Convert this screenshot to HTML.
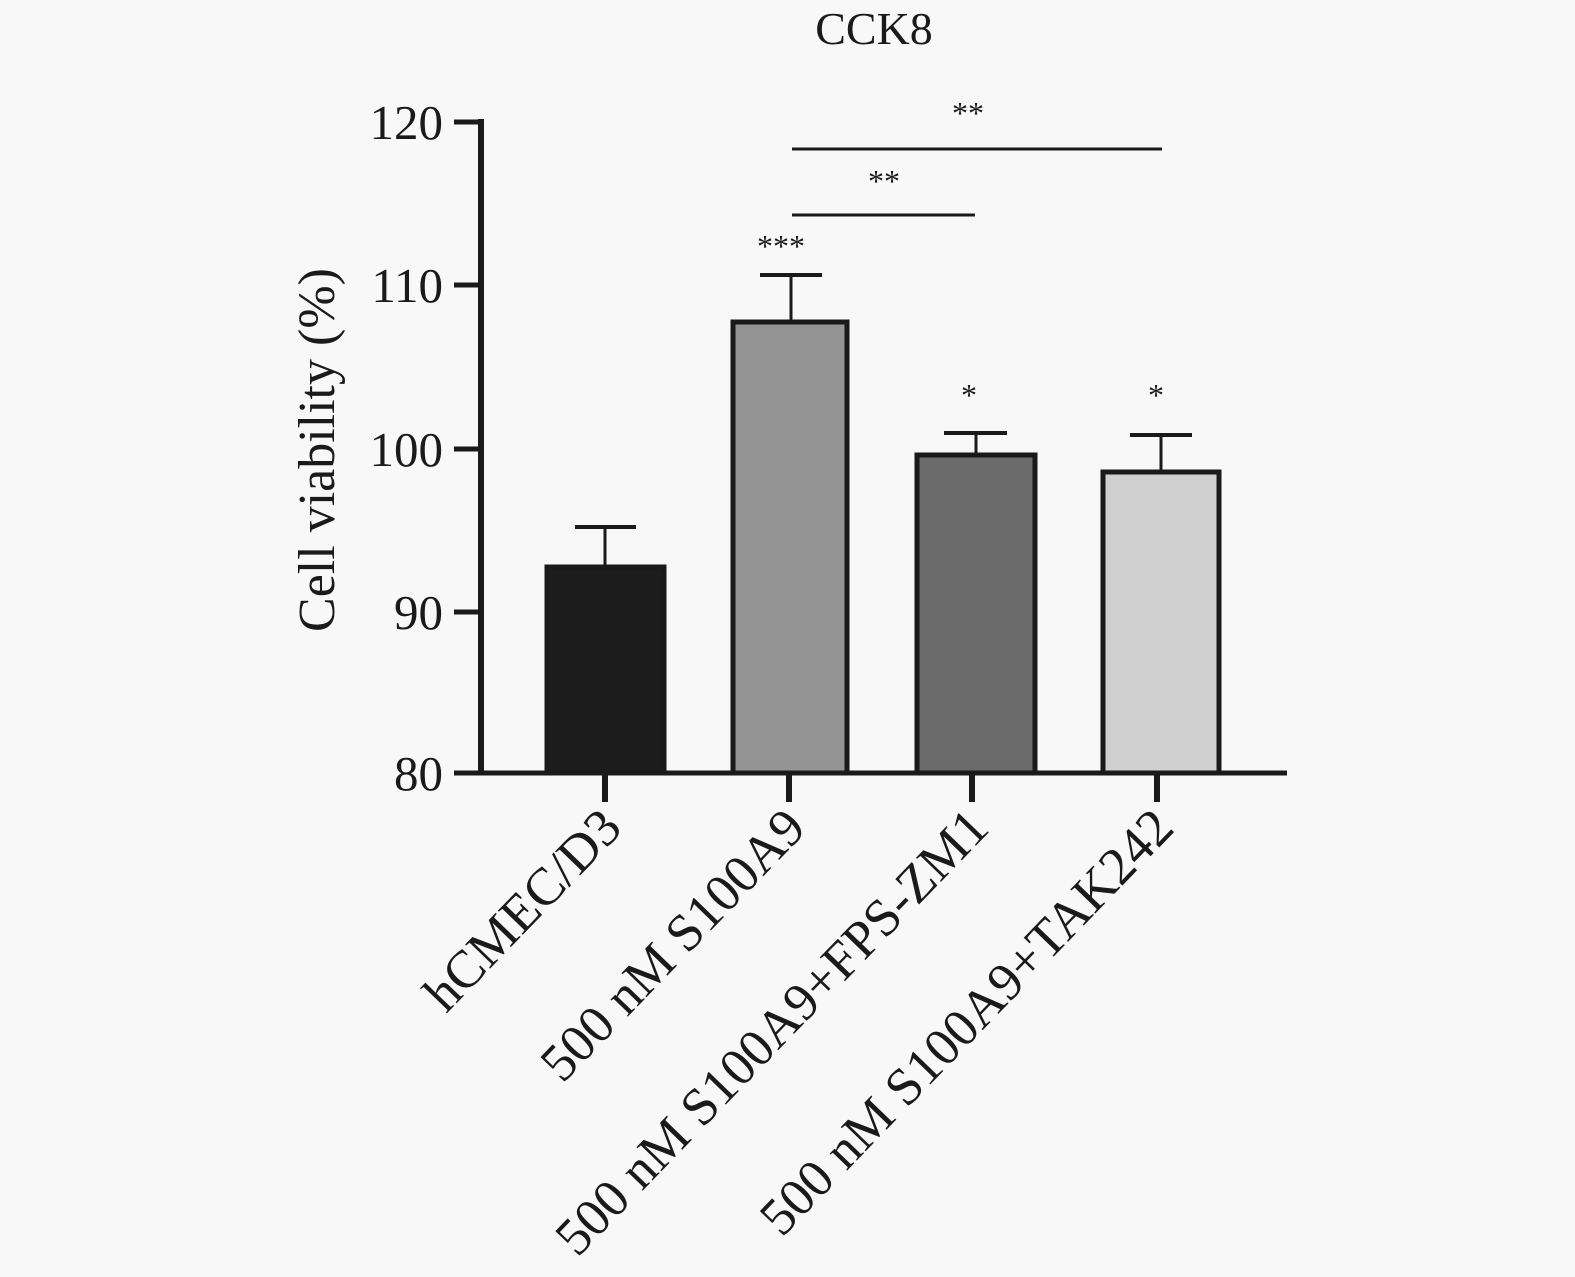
<!DOCTYPE html>
<html><head><meta charset="utf-8"><style>
html,body{margin:0;padding:0;background:#f8f8f8;}
svg{display:block;}
text{font-family:"Liberation Serif",serif;fill:#1a1a1a;}
</style></head><body>
<svg width="1575" height="1277" viewBox="0 0 1575 1277" xmlns="http://www.w3.org/2000/svg">
<rect width="1575" height="1277" fill="#f8f8f8"/>
<text x="874" y="44" font-size="46" text-anchor="middle">CCK8</text>
<line x1="481" y1="119" x2="481" y2="775" stroke="#1a1a1a" stroke-width="6"/>
<g stroke="#1a1a1a" stroke-width="5">
<line x1="454" y1="122" x2="481" y2="122"/>
<line x1="454" y1="285" x2="481" y2="285"/>
<line x1="454" y1="449" x2="481" y2="449"/>
<line x1="454" y1="612" x2="481" y2="612"/>
<line x1="454" y1="773" x2="1287" y2="773"/>
</g>
<g font-size="49" text-anchor="end">
<text x="443" y="139">120</text>
<text x="443" y="302">110</text>
<text x="443" y="466">100</text>
<text x="443" y="629">90</text>
<text x="443" y="790">80</text>
</g>
<text transform="translate(334,450) rotate(-90)" font-size="52" text-anchor="middle">Cell viability (%)</text>
<g stroke="#1a1a1a" stroke-width="5">
<rect x="547" y="567" width="117" height="206" fill="#1c1c1c"/>
<rect x="733" y="322" width="114" height="451" fill="#949494"/>
<rect x="917" y="455" width="118" height="318" fill="#6b6b6b"/>
<rect x="1103" y="472" width="116" height="301" fill="#d0d0d0"/>
</g>
<g stroke="#1a1a1a" stroke-width="3">
<line x1="605" y1="527" x2="605" y2="566"/><line x1="575" y1="527" x2="636" y2="527" stroke-width="4"/>
<line x1="791" y1="275" x2="791" y2="320"/><line x1="760" y1="275" x2="822" y2="275" stroke-width="4"/>
<line x1="976" y1="433" x2="976" y2="454"/><line x1="944" y1="433" x2="1007" y2="433" stroke-width="4"/>
<line x1="1161" y1="435" x2="1161" y2="471"/><line x1="1130" y1="435" x2="1192" y2="435" stroke-width="4"/>
</g>
<g stroke="#1a1a1a" stroke-width="6">
<line x1="605" y1="773" x2="605" y2="802"/>
<line x1="789" y1="773" x2="789" y2="802"/>
<line x1="972" y1="773" x2="972" y2="802"/>
<line x1="1157" y1="773" x2="1157" y2="802"/>
</g>
<g stroke="#1a1a1a" stroke-width="3">
<line x1="792" y1="149" x2="1162" y2="149"/>
<line x1="792" y1="215" x2="975" y2="215"/>
</g>
<g font-size="32" text-anchor="middle">
<text x="968" y="124">**</text>
<text x="884" y="192">**</text>
<text x="781" y="257">***</text>
<text x="969" y="406">*</text>
<text x="1156" y="406">*</text>
</g>
<g font-size="53" text-anchor="end">
<text transform="translate(624,830) rotate(-46)">hCMEC/D3</text>
<text transform="translate(808,830) rotate(-46)">500 nM S100A9</text>
<text transform="translate(991,830) rotate(-46)">500 nM S100A9+FPS-ZM1</text>
<text transform="translate(1176,830) rotate(-46)">500 nM S100A9+TAK242</text>
</g>
</svg>
</body></html>
